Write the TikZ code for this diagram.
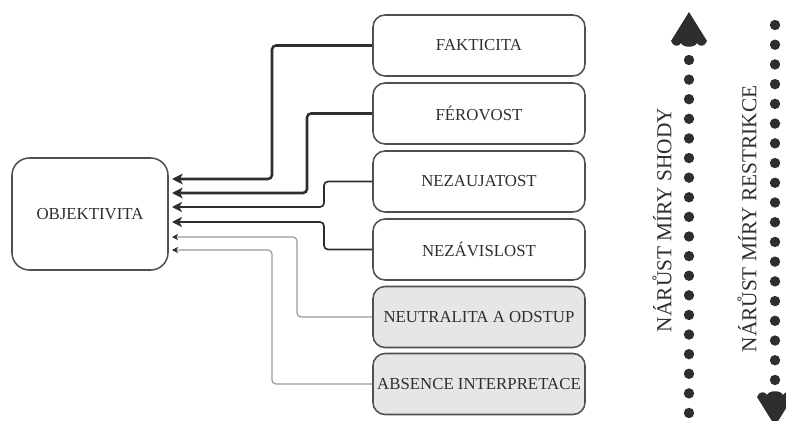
\documentclass[tikz,border=0pt]{standalone}
\usepackage{fontspec}
\setmainfont{Liberation Serif}
\usetikzlibrary{arrows.meta}
\definecolor{edge}{HTML}{505050}
\definecolor{dark}{HTML}{2E2E2E}
\definecolor{lite}{HTML}{999999}
\definecolor{fillg}{HTML}{E6E6E6}
\tikzset{
  box/.style={draw=edge, line width=1.15pt, rounded corners=9pt, minimum width=159pt, minimum height=45.75pt, inner sep=0pt, font=\fontsize{12.6}{14}\selectfont, text=dark},
  graybox/.style={box, fill=fillg},
  objbox/.style={draw=edge, line width=1.15pt, rounded corners=13pt, minimum width=117pt, minimum height=84pt, inner sep=0pt, font=\fontsize{12.6}{14}\selectfont, text=dark},
  conthick/.style={draw=dark, line width=1.9pt, rounded corners=3pt, -{Stealth[length=8pt,width=8pt,inset=2pt]}},
  conmid/.style={draw=dark, line width=1.25pt, rounded corners=3pt, -{Stealth[length=7.5pt,width=7.5pt,inset=2pt]}},
  conthin/.style={draw=lite, line width=0.9pt, rounded corners=3pt, -{Stealth[length=4.5pt,width=4.5pt,inset=1.2pt,color=dark]}},
  sidelabel/.style={rotate=90, font=\fontsize{16}{18}\selectfont, text=dark},
  dotc/.style={fill=dark}
}
\begin{document}
\begin{tikzpicture}[x=0.75pt,y=-0.75pt]
\useasboundingbox (0,0) rectangle (786,421);
\node[objbox] (obj) at (90,214) {OBJEKTIVITA};
\node[box] (fak) at (479,45.5) {FAKTICITA};
\node[box] (fer) at (479,113.5) {FÉROVOST};
\node[box] (nez) at (479,181.5) {NEZAUJATOST};
\node[box] (nzv) at (479,249.5) {NEZÁVISLOST};
\node[graybox] (neu) at (479,317) {NEUTRALITA A ODSTUP};
\node[graybox] (abs) at (479,384) {ABSENCE INTERPRETACE};
\coordinate (o1) at (172,179);
\coordinate (o2) at (172,193);
\coordinate (o3) at (172,207);
\coordinate (o4) at (172,222);
\coordinate (o5) at (172,237);
\coordinate (o6) at (172,250);
\draw[conthick] (fak.west) -| (272,179) -- (o1);
\draw[conthick] (fer.west) -| (307,193) -- (o2);
\draw[conmid] (nez.west) -| (324,207) -- (o3);
\draw[conmid] (nzv.west) -| (324,222) -- (o4);
\draw[conthin] (neu.west) -| (297,237) -- (o5);
\draw[conthin] (abs.west) -| (272,250) -- (o6);
% left dotted arrow (up)
\foreach \i in {0,...,18} \fill[dotc] (689,60+19.61*\i) circle[radius=3.9pt];
\fill[dotc] (689,12) -- (707,41) .. controls (705,47) and (699,47) .. (697,43)
  .. controls (695,48) and (683,48) .. (681,43) .. controls (679,47) and (673,47) .. (671,41) -- cycle;
% right dotted arrow (down)
\foreach \i in {0,...,18} \fill[dotc] (775,25+19.72*\i) circle[radius=3.9pt];
\fill[dotc] (775,426) -- (793,397) .. controls (791,391) and (785,391) .. (783,395)
  .. controls (781,390) and (769,390) .. (767,395) .. controls (765,391) and (759,391) .. (757,397) -- cycle;
\node[sidelabel] (l1) at (662,220) {NÁRŮST MÍRY SHODY};
\node[sidelabel] (l2) at (747,219) {NÁRŮST MÍRY RESTRIKCE};
\end{tikzpicture}
\end{document}
